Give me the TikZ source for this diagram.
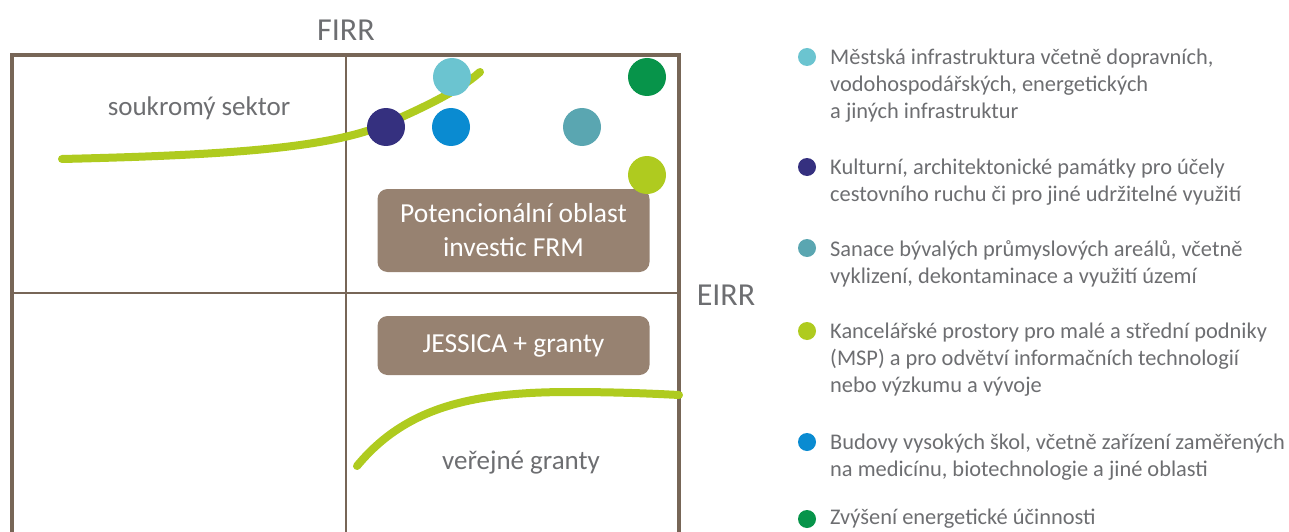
\documentclass[tikz,border=0pt]{standalone}
\usepackage{fontspec}
\setmainfont{Carlito}
\definecolor{frame}{HTML}{776657}
\definecolor{boxfill}{HTML}{978271}
\definecolor{txt}{HTML}{6D6E71}
\definecolor{cInfra}{HTML}{6BC4D0}
\definecolor{cCulture}{HTML}{35307F}
\definecolor{cSanace}{HTML}{5AA6B1}
\definecolor{cOffice}{HTML}{AFCB1F}
\definecolor{cSchool}{HTML}{0A8BD1}
\definecolor{cEnergy}{HTML}{07944A}
\begin{document}
\begin{tikzpicture}[x=1pt,y=-1pt,
    axis/.style={text=txt,font=\fontsize{32}{36}\selectfont},
    lbl/.style={text=txt,font=\fontsize{27}{30}\selectfont},
    brownbox/.style={fill=boxfill,rounded corners=10pt,text=white,align=center,
      font=\fontsize{27.5}{34}\selectfont,minimum width=272pt},
    bigdot/.style={circle,inner sep=0pt,minimum size=38pt,fill=#1},
    legdot/.style={circle,inner sep=0pt,minimum size=18pt,fill=#1},
    item/.style={text=txt,anchor=north west,align=left,inner sep=0pt,
      font=\fontsize{22.4}{27}\selectfont},
    curve/.style={draw=cOffice,line width=8pt,line cap=round}]
  \useasboundingbox (0,0) rectangle (1289,532);
  % frame and quadrants
  \coordinate (tl) at (12,55);
  \coordinate (tr) at (679,55);
  \coordinate (bl) at (12,560);
  \coordinate (br) at (679,560);
  \coordinate (mt) at (346,55);
  \coordinate (mb) at (346,560);
  \coordinate (ml) at (12,293);
  \coordinate (mr) at (679,293);
  \begin{scope}[draw=frame]
    \draw[line width=1.5pt] (mt) -- (mb);
    \draw[line width=1.5pt] (ml) -- (mr);
    \draw[line width=3.5pt] (bl) -- (tl) -- (tr) -- (br);
  \end{scope}
  \node[axis] (firr) at (346,30) {FIRR};
  \node[axis] (eirr) at (726,295) {EIRR};
  \node[lbl] (private) at (199,108) {soukromý sektor};
  \node[lbl] (public) at (521,463) {veřejné granty};
  % boxes
  \node[brownbox,minimum height=83pt] (frm) at (513.5,230.5) {Potencionální oblast\\investic FRM};
  \node[brownbox,minimum height=59pt] (jessica) at (513.5,345.5) {JESSICA + granty};
  % curves
  \draw[curve] (62,159) .. controls (230,155) and (330,148) .. (386,124)
    .. controls (425,107) and (460,90) .. (480,72);
  \draw[curve] (357,466) .. controls (405,408) and (470,392) .. (570,392)
    .. controls (620,392) and (660,394) .. (679,395);
  % dots
  \node[bigdot=cInfra] (d1) at (452,77) {};
  \node[bigdot=cEnergy] (d6) at (647,77) {};
  \node[bigdot=cCulture] (d2) at (386,127) {};
  \node[bigdot=cSchool] (d5) at (451,127) {};
  \node[bigdot=cSanace] (d3) at (582,127) {};
  \node[bigdot=cOffice] (d4) at (647,175) {};
  % legend
  \node[legdot=cInfra] (b1) at (807,57) {};
  \node[legdot=cCulture] (b2) at (807,167) {};
  \node[legdot=cSanace] (b3) at (807,248) {};
  \node[legdot=cOffice] (b4) at (807,331) {};
  \node[legdot=cSchool] (b5) at (807,442) {};
  \node[legdot=cEnergy] (b6) at (807,519) {};
  \node[item] (l1) at (830,49) {Městská infrastruktura včetně dopravních,\\vodohospodářských, energetických\\a jiných infrastruktur};
  \node[item] (l2) at (830,159) {Kulturní, architektonické památky pro účely\\cestovního ruchu či pro jiné udržitelné využití};
  \node[item] (l3) at (830,240) {Sanace bývalých průmyslových areálů, včetně\\vyklizení, dekontaminace a využití území};
  \node[item] (l4) at (830,323) {Kancelářské prostory pro malé a střední podniky\\(MSP) a pro odvětví informačních technologií\\nebo výzkumu a vývoje};
  \node[item] (l5) at (830,434) {Budovy vysokých škol, včetně zařízení zaměřených\\na medicínu, biotechnologie a jiné oblasti};
  \node[item] (l6) at (830,509) {Zvýšení energetické účinnosti};
\end{tikzpicture}
\end{document}
